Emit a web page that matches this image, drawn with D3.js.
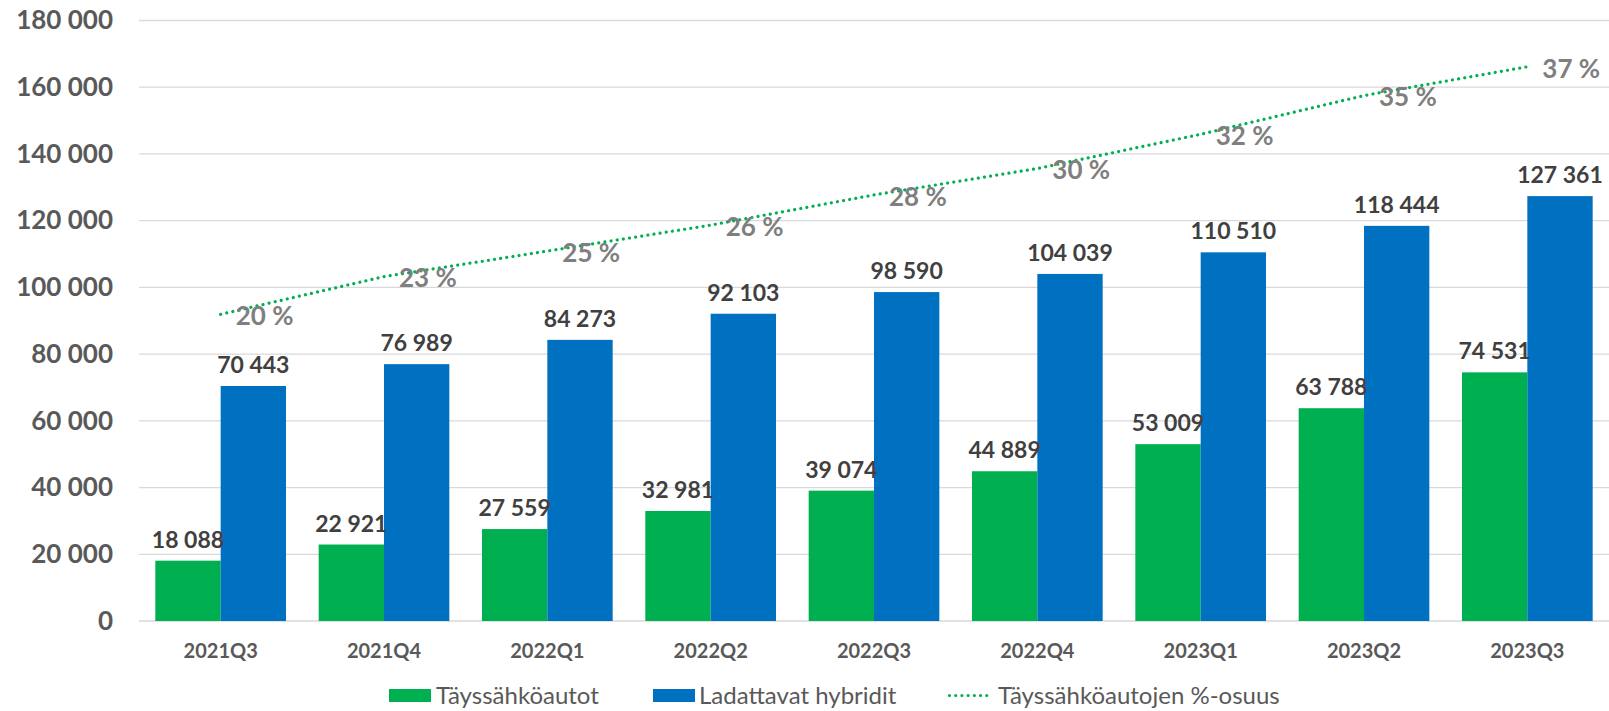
<!DOCTYPE html>
<html>
<head>
<meta charset="utf-8">
<script src="https://cdn.jsdelivr.net/npm/d3@7"></script>
<style>
  html, body { margin: 0; padding: 0; background: #ffffff; }
  svg { display: block; font-family: Lato, "Open Sans", sans-serif; }
</style>
</head>
<body>
<svg id="chart" width="1609" height="711"></svg>
<script>
// ---- data ----
const categories = ["2021Q3","2021Q4","2022Q1","2022Q2","2022Q3","2022Q4","2023Q1","2023Q2","2023Q3"];
const bevValues  = [18088, 22921, 27559, 32981, 39074, 44889, 53009, 63788, 74531];
const phevValues = [70443, 76989, 84273, 92103, 98590, 104039, 110510, 118444, 127361];
const bevShare   = [0.2043, 0.2294, 0.2464, 0.2637, 0.2838, 0.3014, 0.3242, 0.3500, 0.3692];
const yTicks     = [0, 20000, 40000, 60000, 80000, 100000, 120000, 140000, 160000, 180000];
const seriesNames = ["Täyssähköautot", "Ladattavat hybridit", "Täyssähköautojen %-osuus"];

// ---- styles ----
const GREEN = "#00B050", BLUE = "#0070C0";
const svg = d3.select("#chart");
const plotLeft = 139, plotRight = 1609, plotTop = 20.5, plotBottom = 621;

const locale = d3.formatLocale({decimal: ",", thousands: " ", grouping: [3], currency: ["", ""]});
const fmt = locale.format(",d");

const y = d3.scaleLinear().domain([0, 180000]).range([plotBottom, plotTop]);
const y2 = d3.scaleLinear().domain([0, 0.4]).range([plotBottom, plotTop]);
const x0 = d3.scaleBand().domain(categories).range([plotLeft, plotRight]).paddingInner(0.2).paddingOuter(0.1);
const x1 = d3.scaleBand().domain(["bev", "phev"]).range([0, x0.bandwidth()]);

// gridlines
svg.append("g").selectAll("line").data(yTicks).join("line")
  .attr("x1", plotLeft).attr("x2", plotRight)
  .attr("y1", d => y(d)).attr("y2", d => y(d))
  .attr("stroke", "#D9D9D9").attr("stroke-width", 1.3);

// y axis
const yAxis = svg.append("g").attr("transform", `translate(${plotLeft},0)`)
  .call(d3.axisLeft(y).tickValues(yTicks).tickFormat(fmt).tickSize(0).tickPadding(26));
yAxis.select(".domain").remove();
yAxis.selectAll("text").attr("fill", "#595959").attr("font-size", 26).attr("font-weight", 700)
  .attr("font-family", "Lato, sans-serif");

// x axis
const xAxis = svg.append("g").attr("transform", `translate(0,${plotBottom})`)
  .call(d3.axisBottom(x0).tickSize(0).tickPadding(23));
xAxis.select(".domain").remove();
xAxis.selectAll("text").attr("fill", "#595959").attr("font-size", 20).attr("font-weight", 700)
  .attr("font-family", "Lato, sans-serif");

// bars
const rows = categories.map((c, i) => ({cat: c, bev: bevValues[i], phev: phevValues[i], share: bevShare[i]}));
const groups = svg.append("g").selectAll("g").data(rows).join("g")
  .attr("transform", d => `translate(${x0(d.cat)},0)`);
groups.append("rect")
  .attr("x", x1("bev")).attr("width", x1.bandwidth())
  .attr("y", d => y(d.bev)).attr("height", d => y(0) - y(d.bev))
  .attr("fill", GREEN);
groups.append("rect")
  .attr("x", x1("phev")).attr("width", x1.bandwidth())
  .attr("y", d => y(d.phev)).attr("height", d => y(0) - y(d.phev))
  .attr("fill", BLUE);

// share line
const cx = d => x0(d.cat) + x0.bandwidth() / 2;
svg.append("path").datum(rows)
  .attr("d", d3.line().x(cx).y(d => y2(d.share)))
  .attr("fill", "none").attr("stroke", GREEN).attr("stroke-width", 3.2)
  .attr("stroke-linecap", "round").attr("stroke-dasharray", "0.01 6.2");

// bar labels
const labels = svg.append("g").attr("font-size", 23).attr("font-weight", 700).attr("fill", "#404040")
  .attr("text-anchor", "middle");
labels.selectAll("text.bev").data(rows).join("text").attr("class", "bev")
  .attr("x", d => x0(d.cat) + x1("bev") + x1.bandwidth() / 2)
  .attr("y", d => y(d.bev) - 13).text(d => fmt(d.bev));
labels.selectAll("text.phev").data(rows).join("text").attr("class", "phev")
  .attr("x", d => x0(d.cat) + x1("phev") + x1.bandwidth() / 2)
  .attr("y", d => y(d.phev) - 13).text(d => fmt(d.phev));

// share labels
svg.append("g").selectAll("text").data(rows).join("text")
  .attr("x", d => cx(d) + 15).attr("y", d => y2(d.share) + 1.5).attr("dy", "0.36em")
  .attr("font-size", 26).attr("font-weight", 700).attr("fill", "#7F7F7F")
  .text(d => Math.round(d.share * 100) + " %");

// legend
const legendY = 695.5;
const legendItems = [
  {name: seriesNames[0], type: "rect", color: GREEN, x: 389, tx: 436},
  {name: seriesNames[1], type: "rect", color: BLUE, x: 653, tx: 699},
  {name: seriesNames[2], type: "line", color: GREEN, x: 948, tx: 998}
];
const lg = svg.append("g");
legendItems.forEach(it => {
  if (it.type === "rect") {
    lg.append("rect").attr("x", it.x).attr("y", legendY - 6.5).attr("width", 42).attr("height", 13).attr("fill", it.color);
  } else {
    lg.append("line").attr("x1", it.x + 1.5).attr("x2", it.x + 41).attr("y1", legendY).attr("y2", legendY)
      .attr("stroke", it.color).attr("stroke-width", 3.2).attr("stroke-linecap", "round").attr("stroke-dasharray", "0.01 6.2");
  }
  lg.append("text").attr("x", it.tx).attr("y", legendY).attr("dy", "0.35em")
    .attr("font-size", 24).attr("fill", "#595959").text(it.name);
});
</script>
</body>
</html>
